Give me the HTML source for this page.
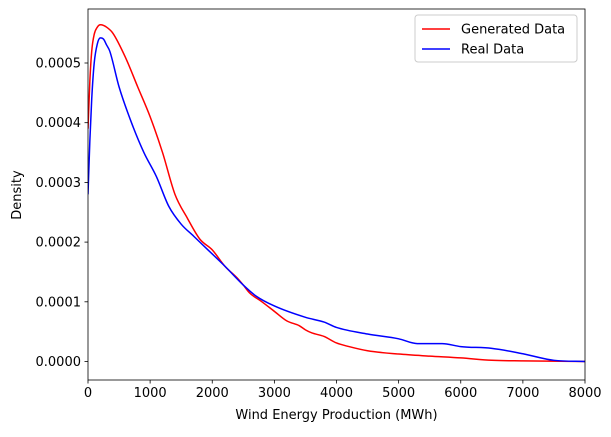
<!DOCTYPE html>
<html><head><meta charset="utf-8"><style>
body{margin:0;background:#fff;}
svg text{font-family:"DejaVu Sans","Liberation Sans",sans-serif;font-size:13px;fill:#000;}
</style></head><body>
<svg id="chart" width="611" height="432" xmlns="http://www.w3.org/2000/svg">
<rect width="611" height="432" fill="#fff"/>
<g id="plot"></g>
</svg>
<script>
const genX=[0,30,60,100,150,200,250,300,400,600,800,1000,1200,1400,1600,1800,2000,2200,2400,2500,2600,2800,3000,3200,3400,3500,3600,3800,4000,4200,4500,5000,5500,6000,6500,7000,8000];
const genY=[0.00039,0.00047,0.00052,0.000548,0.00056,0.000564,0.000563,0.00056,0.00055,0.00051,0.00046,0.00041,0.00035,0.00028,0.00024,0.000205,0.000187,0.00016,0.00014,0.000128,0.000115,0.0001,0.000084,0.000068,0.00006,0.000053,0.000048,0.000042,0.000031,0.000025,0.000018,0.0000125,0.000009,0.000006,0.000002,0.000001,0];
const realX=[0,30,60,100,150,200,250,300,350,500,700,900,1100,1300,1500,1700,1900,2200,2500,2700,3000,3500,3800,4000,4500,5000,5300,5700,6000,6500,7000,7500,8000];
const realY=[0.00028,0.00037,0.00044,0.0005,0.000532,0.000542,0.00054,0.00053,0.00052,0.00046,0.0004,0.00035,0.00031,0.00026,0.00023,0.00021,0.00019,0.00016,0.000128,0.00011,0.000093,0.000074,0.000066,0.000057,0.000046,0.000038,0.00003,0.00003,0.000025,0.000022,0.000013,0.000002,0];
const xTicks=[0,1000,2000,3000,4000,5000,6000,7000,8000];
const yTicks=[0,0.0001,0.0002,0.0003,0.0004,0.0005];
const yTickLabels=["0.0000","0.0001","0.0002","0.0003","0.0004","0.0005"];
const L=88,R=585,T=9,B=380;
const sx=v=>L+(v-0)/8000*(R-L);
const sy=v=>361.5-v*597000;
const g=document.getElementById('plot');
const NS='http://www.w3.org/2000/svg';
function mk(tag,attrs,parent){const e=document.createElementNS(NS,tag);for(const k in attrs)e.setAttribute(k,attrs[k]);(parent||g).appendChild(e);return e;}
const defs=mk('defs',{});const cp=mk('clipPath',{id:'clip'},defs);mk('rect',{x:L,y:T,width:R-L,height:B-T},cp);
function smoothPath(pts){
  // monotone cubic (Fritsch-Carlson)
  const n=pts.length,dx=[],dy=[],m=[],t=[];
  for(let i=0;i<n-1;i++){dx[i]=pts[i+1][0]-pts[i][0];dy[i]=pts[i+1][1]-pts[i][1];m[i]=dy[i]/dx[i];}
  t[0]=m[0];t[n-1]=m[n-2];
  for(let i=1;i<n-1;i++){t[i]=(m[i-1]*m[i]<=0)?0:(m[i-1]+m[i])/2;}
  for(let i=0;i<n-1;i++){if(m[i]===0){t[i]=0;t[i+1]=0;continue;}const a=t[i]/m[i],b=t[i+1]/m[i],s=a*a+b*b;if(s>9){const k=3/Math.sqrt(s);t[i]=k*a*m[i];t[i+1]=k*b*m[i];}}
  let d='M'+pts[0][0].toFixed(2)+','+pts[0][1].toFixed(2);
  for(let i=0;i<n-1;i++){const h=dx[i]/3;d+=' C'+(pts[i][0]+h).toFixed(2)+','+(pts[i][1]+t[i]*h).toFixed(2)+' '+(pts[i+1][0]-h).toFixed(2)+','+(pts[i+1][1]-t[i+1]*h).toFixed(2)+' '+pts[i+1][0].toFixed(2)+','+pts[i+1][1].toFixed(2);}
  return d;
}
function line(xs,ys,color,name){
  const pts=xs.map((x,i)=>[sx(x),sy(ys[i])]);
  const p=mk('path',{d:smoothPath(pts),fill:'none',stroke:color,'stroke-width':1.5,'stroke-linejoin':'round','clip-path':'url(#clip)'});
  
  
}
line(genX,genY,'#ff0000','generated-data-line');
line(realX,realY,'#0000ff','real-data-line');
const frame=mk('rect',{x:L,y:T,width:R-L,height:B-T,fill:'none',stroke:'#000','stroke-width':0.8});


xTicks.forEach(v=>{
  mk('line',{x1:sx(v),x2:sx(v),y1:B,y2:B+3.5,stroke:'#000','stroke-width':0.8});
  const t=mk('text',{x:sx(v),y:B+17,'text-anchor':'middle'});t.textContent=v;
  
  
});
yTicks.forEach((v,i)=>{
  mk('line',{x1:L-3.5,x2:L,y1:sy(v),y2:sy(v),stroke:'#000','stroke-width':0.8});
  const t=mk('text',{x:L-7,y:sy(v)+4.5,'text-anchor':'end'});t.textContent=yTickLabels[i];
  
  
});
const xl=mk('text',{x:(L+R)/2,y:419,'text-anchor':'middle'});xl.textContent='Wind Energy Production (MWh)';


const yl=mk('text',{x:21,y:195,'text-anchor':'middle',transform:'rotate(-90 21 195)'});yl.textContent='Density';


const lg=mk('g',{});


mk('rect',{x:415,y:15,width:162,height:47,rx:3,fill:'#fff',stroke:'#ccc','stroke-width':1},lg);
const entries=[['Generated Data','#ff0000'],['Real Data','#0000ff']];
entries.forEach((e,i)=>{
  const y=29+i*20;
  mk('line',{x1:422,x2:450,y1:y,y2:y,stroke:e[1],'stroke-width':1.5},lg);
  const t=mk('text',{x:461,y:y+4.5},lg);t.textContent=e[0];
  
  
});
</script>
</body></html>
